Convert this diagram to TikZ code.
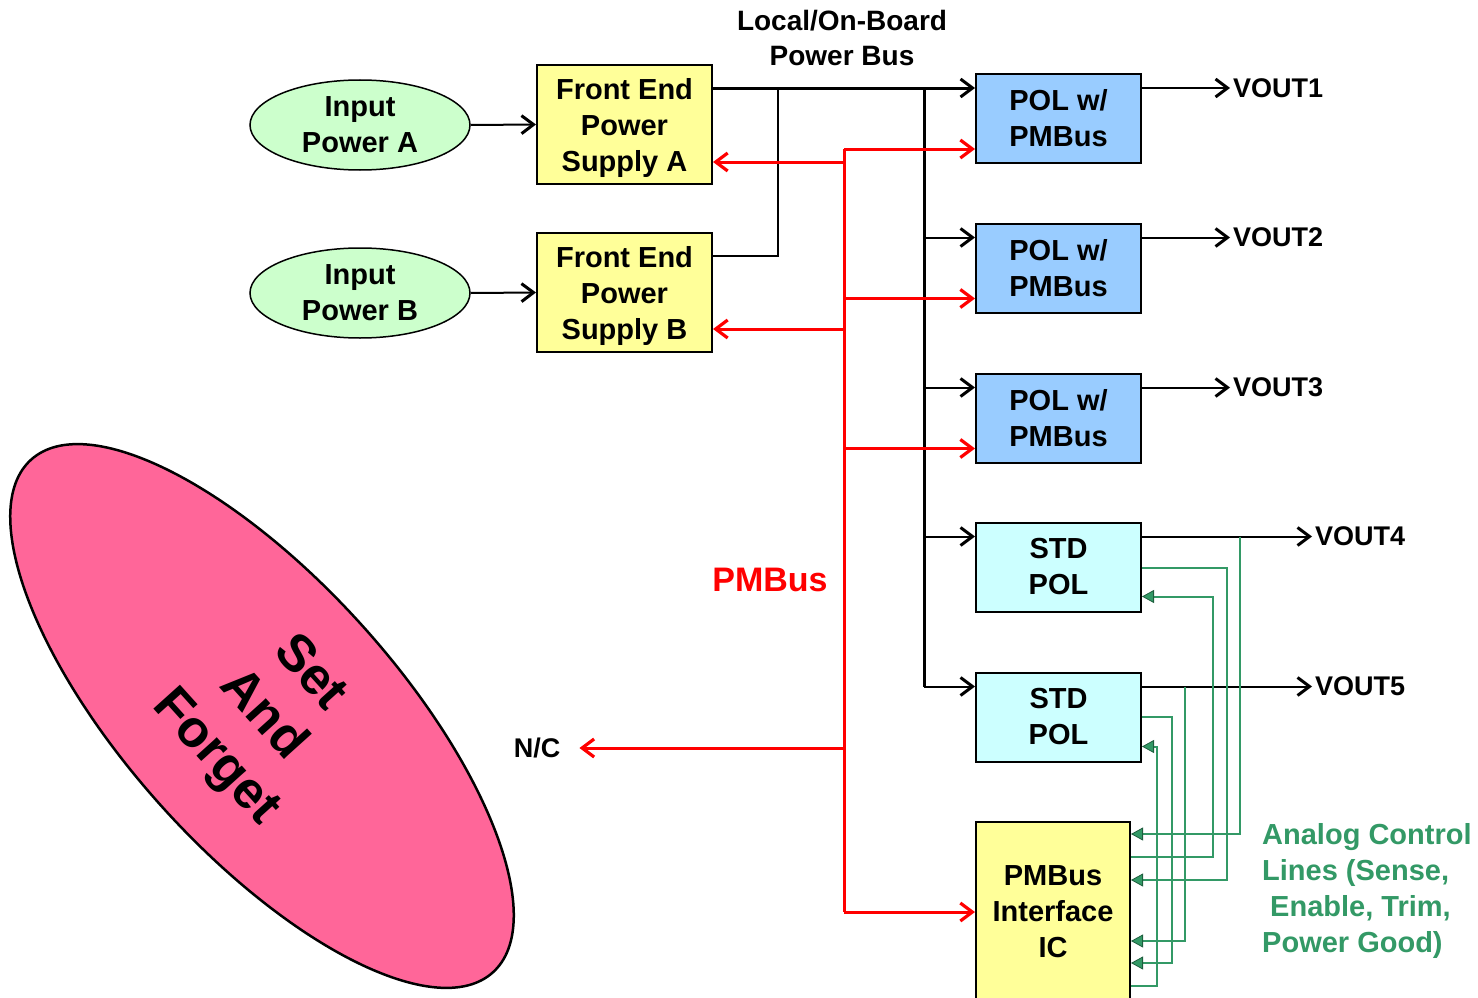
\documentclass[tikz,border=0pt]{standalone}
\usepackage{fontspec}
\setmainfont{Liberation Sans}
\usetikzlibrary{shapes.geometric,arrows.meta,positioning}
\definecolor{feyellow}{HTML}{FFFF99}
\definecolor{polblue}{HTML}{99CCFF}
\definecolor{stdcyan}{HTML}{CCFFFF}
\definecolor{ingreen}{HTML}{CCFFCC}
\definecolor{sfpink}{HTML}{FF6699}
\definecolor{ctlgreen}{HTML}{339966}
\definecolor{ctldark}{HTML}{1E5E3E}
\tikzset{
  txt/.style={font=\bfseries\fontsize{29}{36}\selectfont, align=center, inner sep=0pt},
  blk/.style={txt, draw, line width=2pt, minimum width=165pt, minimum height=89pt},
  inpower/.style={txt, ellipse, draw, line width=1.5pt, fill=ingreen, minimum width=220pt, minimum height=90pt},
  fepsbox/.style={blk, fill=feyellow, minimum width=175pt, minimum height=119pt, text depth=0pt},
  polbox/.style={blk, fill=polblue},
  stdbox/.style={blk, fill=stdcyan},
  icbox/.style={blk, fill=feyellow, minimum width=154pt, minimum height=180pt},
  sfoval/.style={ellipse, draw, line width=2.5pt, fill=sfpink, minimum width=690pt, minimum height=270pt, rotate=-48, font=\bfseries\fontsize{52}{63}\selectfont, align=center},
  vout/.style={txt, font=\bfseries\fontsize{27}{32}\selectfont, inner xsep=3pt},
  pwr/.style={line width=2pt},
  pwrarrow/.style={pwr, -{Straight Barb[length=12pt,width=18pt,line width=3pt]}},
  pmb/.style={red, line width=3pt},
  pmbarrow/.style={pmb, -{Straight Barb[length=12pt,width=18pt,line width=3.2pt]}},
  ctl/.style={ctlgreen, line width=2pt},
  ctlarrow/.style={ctl, -{Triangle[length=12pt,width=13pt,color=ctldark,fill=ctlgreen,line width=0.8pt]}}
}
\begin{document}
\begin{tikzpicture}[x=1pt,y=-1pt]
\useasboundingbox (0,0) rectangle (1478,998);
\clip (0,0) rectangle (1478,998);
% set and forget
\node[sfoval] (sf) at (262,716) {Set\\And\\Forget};
% inputs and front ends
\node[inpower] (inA) at (360,125) {Input\\Power A};
\node[inpower] (inB) at (360,293) {Input\\Power B};
\node[fepsbox] (feA) at (624.5,124.5) {Front End\\Power\\Supply A};
\node[fepsbox] (feB) at (624.5,292.5) {Front End\\Power\\Supply B};
% point of load converters
\node[polbox] (pol1) at (1058.5,118.5) {POL w/\\PMBus};
\node[polbox] (pol2) at (1058.5,268) {POL w/\\PMBus};
\node[polbox] (pol3) at (1058.5,418) {POL w/\\PMBus};
\node[stdbox] (std1) at (1058.5,567) {STD\\POL};
\node[stdbox] (std2) at (1058.5,717) {STD\\POL};
\node[icbox] (ic) at (1053,912) {PMBus\\Interface\\IC};
% labels
\node[txt, font=\bfseries\fontsize{28}{35}\selectfont] (title) at (842,37.5) {Local/On-Board\\Power Bus};
\node[txt, red, font=\bfseries\fontsize{34}{40}\selectfont] (pmblbl) at (770,580) {PMBus};
\node[txt, font=\bfseries\fontsize{27}{32}\selectfont] (nc) at (537,748) {N/C};
\node[txt, ctlgreen, align=left, anchor=west] (anlbl) at (1262,891) {Analog Control\\Lines (Sense,\\\hspace*{8pt}Enable, Trim,\\Power Good)};
% pins
\foreach \n in {pol1,pol2,pol3,std1,std2}{
  \coordinate (in\n) at ([yshift=-15pt]\n.north west);
  \coordinate (out\n) at ([yshift=-15pt]\n.north east);
}
\foreach \n in {pol1,pol2,pol3} \coordinate (b\n) at ([yshift=15pt]\n.south west);
\coordinate (bfeA) at ([yshift=23pt]feA.south east);
\coordinate (bfeB) at ([yshift=24pt]feB.south east);
\coordinate (bic) at (ic.west);
\coordinate (feAout) at ([yshift=-24pt]feA.north east);
\coordinate (feBout) at ([yshift=-24pt]feB.north east);
\coordinate (tie) at (778,89);
\coordinate (bustop) at (924,89);
\coordinate (busbot) at (924,687);
% power path
\draw[pwrarrow] (inA.east) -- (feA.west);
\draw[pwrarrow] (inB.east) -- (feB.west);
\draw[pwrarrow, line width=3pt] (feAout) -- (inpol1);
\draw[pwr] (feBout) -| (tie);
\draw[pwr, line width=3pt] (bustop) -- (busbot);
\foreach \n in {pol2,pol3,std1,std2}
  \draw[pwrarrow] (bustop |- in\n) -- (in\n);
\foreach \n/\v/\d in {pol1/1/88,pol2/2/88,pol3/3/88,std1/4/170,std2/5/170}{
  \node[vout, right=\d pt of out\n] (vout\v) {VOUT\v};
  \draw[pwrarrow] (out\n) -- (vout\v.west);
}
% pmbus
\coordinate (pmbtop) at ([xshift=-131pt]bpol1);
\coordinate (pmbbot) at ([xshift=-131pt]bic);
\draw[pmb] (pmbtop) -- (pmbbot);
\foreach \n in {pol1,pol2,pol3,ic,feA,feB}
  \draw[pmbarrow] (pmbtop |- b\n) -- (b\n);
\draw[pmbarrow] (pmbtop |- nc) -- ([xshift=19pt]nc.east);
% analog control lines
\coordinate (s1o) at ([yshift=-46pt]std1.north east);
\coordinate (s1i) at ([yshift=-75pt]std1.north east);
\coordinate (s2o) at ([yshift=-45pt]std2.north east);
\coordinate (s2i) at ([yshift=-75pt]std2.north east);
\foreach \k/\d in {1/13,2/36,3/59,4/120,5/142,6/165}
  \coordinate (icp\k) at ([yshift=-\d pt]ic.north east);
\coordinate (lnA) at ([xshift=98pt]outstd1);
\coordinate (lnB) at ([xshift=85pt]s1o);
\coordinate (lnC) at ([xshift=71pt]s1i);
\coordinate (lnD) at ([xshift=43pt]outstd2);
\coordinate (lnE) at ([xshift=30pt]s2o);
\coordinate (lnF) at ([xshift=15pt]s2i);
\draw[ctlarrow] (lnA) |- (icp1);
\draw[ctlarrow] (s1o) -- (lnB) |- (icp3);
\draw[ctlarrow] (icp2) -| (lnC) -- (s1i);
\draw[ctlarrow] (lnD) |- (icp4);
\draw[ctlarrow] (s2o) -- (lnE) |- (icp5);
\draw[ctlarrow] (icp6) -| (lnF) -- (s2i);
\end{tikzpicture}
\end{document}
